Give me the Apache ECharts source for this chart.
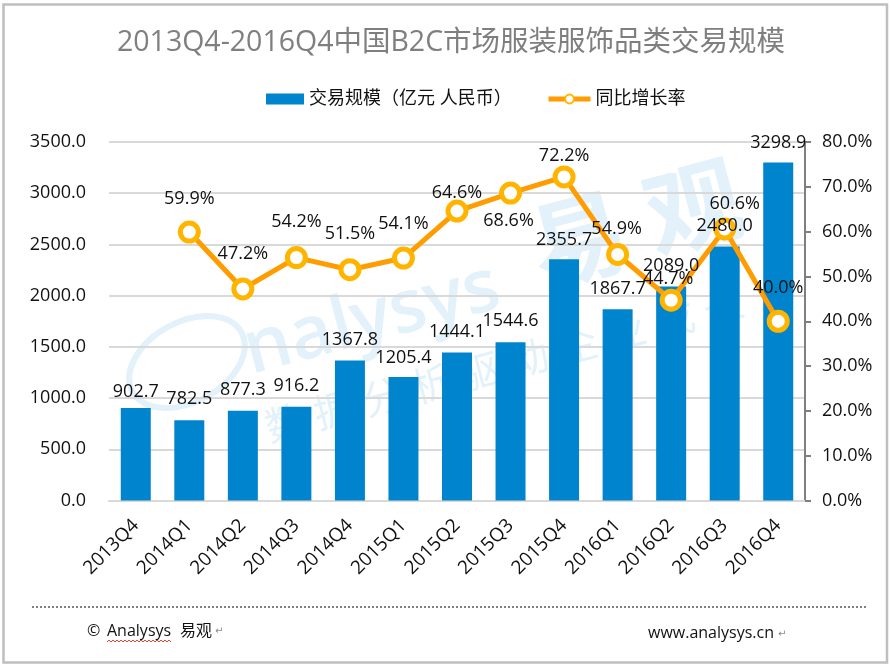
<!DOCTYPE html>
<html>
<head>
<meta charset="utf-8">
<style>html,body{margin:0;padding:0;background:#fff}#main{width:890px;height:666px}</style>
<script src="https://cdn.jsdelivr.net/npm/echarts@6/dist/echarts.min.js"></script>
</head>
<body>
<div id="main"></div>
<script>
var categories = ['2013Q4','2014Q1','2014Q2','2014Q3','2014Q4','2015Q1','2015Q2','2015Q3','2015Q4','2016Q1','2016Q2','2016Q3','2016Q4'];
var scaleValues = [902.7,782.5,877.3,916.2,1367.8,1205.4,1444.1,1544.6,2355.7,1867.7,2089.0,2480.0,3298.9];
var growthValues = [null,59.9,47.2,54.2,51.5,54.1,64.6,68.6,72.2,54.9,44.7,60.6,40.0];

var FONT = '"Open Sans","Noto Sans CJK SC",sans-serif';
var WATER = '#e3f1fb';
var BAR_NAME = '交易规模（亿元 人民币）', LINE_NAME = '同比增长率';

//标签位置微调
var growthOffsets = [[0,0],[0,-8],[0,-10],[0,-10],[0,-10],[0,-9],[0,7],[-2,53],[0,4],[-1,0],[-3,4],[10,0],[0,-8]];
var scaleOffsets = [5,0,0,0,0,2,0,0,2,1,0,0,1];

//拼写检查红色波浪线
var wavePoints = [];
for (var wx = 107, wi = 0; wx <= 172; wx += 2, wi++) {
	wavePoints.push([wx, wi % 2 ? 640 : 642]);
}

function waterText(text, x, y, size, rotation, weight) {
	return {type: 'text', x: x, y: y, rotation: rotation, z: -1, silent: true,
		style: {text: text, fontSize: size, fontWeight: weight || 'normal', fill: WATER, fontFamily: FONT, align: 'center', verticalAlign: 'middle'}};
}

var chart = echarts.init(document.getElementById('main'));
chart.setOption({
	animation: false,
	title: {
		text: '2013Q4-2016Q4中国B2C市场服装服饰品类交易规模',
		left: 112,
		top: 24,
		textStyle: {fontSize: 28.5, fontWeight: 'normal', color: '#7f7f7f', fontFamily: FONT}
	},
	legend: [{
		top: 85,
		left: 261,
		itemWidth: 38,
		itemHeight: 11,
		textStyle: {fontSize: 18, color: '#111', fontFamily: FONT},
		data: [{name: BAR_NAME, icon: 'rect'}]
	}, {
		top: 85,
		left: 541,
		itemWidth: 42,
		itemHeight: 11,
		lineStyle: {width: 5},
		textStyle: {fontSize: 18, color: '#111', fontFamily: FONT},
		data: [LINE_NAME]
	}],
	grid: {left: 109, right: 85, top: 142, height: 358.5},
	xAxis: {
		type: 'category',
		data: categories,
		axisTick: {show: false},
		axisLine: {lineStyle: {color: '#d9d9d9', width: 2}},
		axisLabel: {rotate: 45, fontSize: 19, color: '#111', margin: 22, fontFamily: FONT, interval: 0}
	},
	yAxis: [{
		type: 'value',
		min: 0,
		max: 3500,
		interval: 500,
		axisLine: {show: false},
		axisTick: {show: false},
		splitLine: {lineStyle: {color: '#d9d9d9', width: 2}},
		axisLabel: {fontSize: 18, color: '#111', margin: 23, fontFamily: FONT, formatter: function(v) {return v.toFixed(1)}}
	}, {
		type: 'value',
		min: 0,
		max: 80,
		interval: 10,
		axisLine: {show: true, lineStyle: {color: '#7f7f7f', width: 2}},
		axisTick: {show: true, length: 6, lineStyle: {color: '#7f7f7f', width: 2}},
		splitLine: {show: false},
		axisLabel: {fontSize: 18, color: '#111', margin: 17, fontFamily: FONT, formatter: function(v) {return v.toFixed(1) + '%'}}
	}],
	series: [{
		name: BAR_NAME,
		type: 'bar',
		data: scaleValues,
		barWidth: 30,
		barGap: '-100%',
		itemStyle: {color: '#0084cd'}
	}, {
		name: LINE_NAME,
		type: 'line',
		yAxisIndex: 1,
		z: 3,
		data: growthValues.map(function(v, i) {
			return {value: v, label: {offset: growthOffsets[i]}};
		}),
		symbol: 'circle',
		symbolSize: 18,
		lineStyle: {color: '#ff9c00', width: 5},
		itemStyle: {color: '#fff', borderColor: '#ffb500', borderWidth: 5},
		label: {show: true, position: 'top', fontSize: 18, color: '#111', fontFamily: FONT, formatter: function(p) {return p.value.toFixed(1) + '%'}}
	}, {
		//只放柱子的数值标签，压在折线上面
		name: '数值',
		type: 'bar',
		z: 4,
		barWidth: 30,
		barGap: '-100%',
		itemStyle: {color: 'transparent'},
		data: scaleValues.map(function(v, i) {
			return {value: v, label: {offset: [0, scaleOffsets[i]]}};
		}),
		label: {show: true, position: 'top', distance: 12, fontSize: 18, color: '#111', fontFamily: FONT, formatter: function(p) {return p.value.toFixed(1)}}
	}],
	graphic: [
		waterText('nalysys', 372, 320, 74, 0.26, 600),
		waterText('易', 581, 247, 96, 0.26, 'bold'),
		waterText('观', 695, 215, 96, 0.26, 'bold'),
		waterText('数 据 分 析 驱 动 企 业 成 长', 505, 368, 40, 0.26),
		{type: 'ellipse', x: 187, y: 362, rotation: 0.5, z: -1, silent: true, shape: {cx: 0, cy: 0, rx: 62, ry: 40}, style: {fill: 'none', stroke: WATER, lineWidth: 6}},
		{type: 'rect', shape: {x: 3.5, y: 4.5, width: 883.5, height: 658}, style: {fill: 'none', stroke: '#bfbfbf', lineWidth: 2.5}},
		{type: 'line', shape: {x1: 32, y1: 607, x2: 868, y2: 607}, style: {stroke: '#7f7f7f', lineWidth: 2, lineDash: [2, 2]}},
		{type: 'text', x: 87, y: 623, style: {text: '©', fontSize: 16, fill: '#111', fontFamily: FONT}},
		{type: 'text', x: 107, y: 623, style: {text: 'Analysys', fontSize: 16, fill: '#111', fontFamily: FONT}},
		{type: 'text', x: 180, y: 623, style: {text: '易观', fontSize: 16, fill: '#111', fontFamily: FONT}},
		{type: 'text', x: 215, y: 626, style: {text: '↵', fontSize: 10, fill: '#888', fontFamily: 'DejaVu Sans'}},
		{type: 'text', x: 648, y: 625, style: {text: 'www.analysys.cn', fontSize: 16, fill: '#111', fontFamily: FONT}},
		{type: 'text', x: 778, y: 629, style: {text: '↵', fontSize: 10, fill: '#888', fontFamily: 'DejaVu Sans'}},
		{type: 'polyline', shape: {points: wavePoints}, style: {fill: 'none', stroke: '#e8432e', lineWidth: 1}}
	]
});
</script>
</body>
</html>
